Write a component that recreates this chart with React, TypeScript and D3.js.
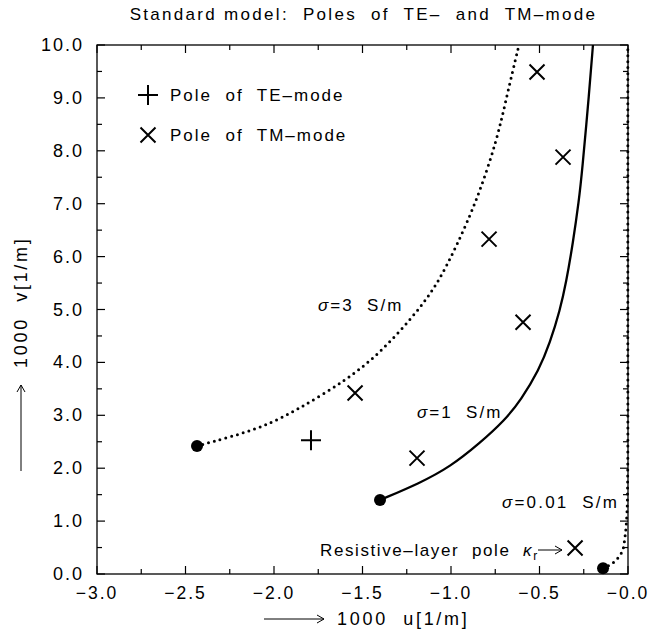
import React from "react";
import * as d3 from "d3";

const title = "Standard model:  Poles  of  TE–  and  TM–mode";

const xTicks = [-3.0, -2.5, -2.0, -1.5, -1.0, -0.5, 0.0];
const xTickLabels = ["−3.0", "−2.5", "−2.0", "−1.5", "−1.0", "−0.5", "−0.0"];
const yTicks = [0, 1, 2, 3, 4, 5, 6, 7, 8, 9, 10];

// sigma = 3 S/m (dotted)
const sigma3U = [-2.435, -2.249, -2.062, -1.87, -1.588, -1.401, -1.215, -1.079, -0.966, -0.853, -0.740, -0.684, -0.616];
const sigma3V = [2.42, 2.59, 2.78, 3.1, 3.67, 4.18, 4.86, 5.46, 6.22, 7.07, 8.2, 9.05, 10.0];

// sigma = 1 S/m (solid)
const sigma1U = [-1.401, -1.175, -1.006, -0.836, -0.695, -0.605, -0.503, -0.441, -0.384, -0.35, -0.311, -0.277, -0.26, -0.218, -0.198];
const sigma1V = [1.399, 1.72, 2.023, 2.476, 2.911, 3.289, 3.856, 4.367, 4.991, 5.501, 6.257, 7.07, 7.58, 9.149, 10.0];

// sigma = 0.01 S/m (dotted)
const sigma001U = [-0.141, -0.085, -0.034, -0.017, -0.006, -0.002, -0.001, -0.001];
const sigma001V = [0.11, 0.21, 0.42, 0.7, 1.15, 1.78, 5.0, 10.0];

// Pole of TE-mode
const teU = [-1.791];
const teV = [2.53];

// Poles of TM-mode
const tmU = [-0.514, -0.367, -0.785, -0.593, -1.542, -1.192, -0.299];
const tmV = [9.49, 7.88, 6.33, 4.76, 3.42, 2.19, 0.49];

const W = 648;
const H = 637;
const margin = { left: 97, right: 20, top: 45, bottom: 63 };
const FONT = "'Liberation Sans', Arial, sans-serif";

export default function App() {
  const x = d3.scaleLinear().domain([-3, 0]).range([margin.left, W - margin.right]);
  const y = d3.scaleLinear().domain([0, 10]).range([H - margin.bottom, margin.top]);
  const smooth = d3
    .line<[number, number]>()
    .x((d) => x(d[0]))
    .y((d) => y(d[1]))
    .curve(d3.curveBasis);
  const tight = d3
    .line<[number, number]>()
    .x((d) => x(d[0]))
    .y((d) => y(d[1]))
    .curve(d3.curveCatmullRom.alpha(0.5));

  const pts = (u: number[], v: number[]) => u.map((uu, i) => [uu, v[i]] as [number, number]);
  const x0 = x(-3), x1 = x(0), y0 = y(0), y1 = y(10);

  const xMinor = d3.range(-3, 0.001, 0.25);
  const yMinor = d3.range(0, 10.001, 0.5);

  const cross = (cx: number, cy: number, s: number) => `M${cx - s},${cy - s}L${cx + s},${cy + s}M${cx - s},${cy + s}L${cx + s},${cy - s}`;
  const plus = (cx: number, cy: number, s: number) => `M${cx - s},${cy}L${cx + s},${cy}M${cx},${cy - s}L${cx},${cy + s}`;

  const st = (ls: number): React.CSSProperties => ({ fontFamily: FONT, whiteSpace: "pre", letterSpacing: `${ls}px` });

  return (
    <svg width={W} height={H} style={{ position: "absolute", left: 0, top: 0, background: "#fff" }}>
      <rect x={0} y={0} width={W} height={H} fill="#fff" />
      <text x={(x0 + x1) / 2 + 1} y={20} textAnchor="middle" fontSize={17} style={st(2.3)}>
        {title}
      </text>

      {/* frame */}
      <rect x={x0} y={y1} width={x1 - x0} height={y0 - y1} fill="none" stroke="#000" strokeWidth={1.3} />

      {/* ticks */}
      {xMinor.map((t, i) => {
        const len = i % 2 === 0 ? 8 : 5;
        return (
          <g key={"xt" + i}>
            <line x1={x(t)} x2={x(t)} y1={y0} y2={y0 - len} stroke="#000" strokeWidth={1.2} />
            <line x1={x(t)} x2={x(t)} y1={y1} y2={y1 + len} stroke="#000" strokeWidth={1.2} />
          </g>
        );
      })}
      {yMinor.map((t, i) => {
        const len = i % 2 === 0 ? 8 : 5;
        return (
          <g key={"yt" + i}>
            <line x1={x0} x2={x0 + len} y1={y(t)} y2={y(t)} stroke="#000" strokeWidth={1.2} />
            <line x1={x1} x2={x1 - len} y1={y(t)} y2={y(t)} stroke="#000" strokeWidth={1.2} />
          </g>
        );
      })}
      {xTicks.map((t, i) => (
        <text key={"xl" + i} x={x(t)} y={y0 + 25} textAnchor="middle" fontSize={17.5} style={st(2)}>
          {xTickLabels[i]}
        </text>
      ))}
      {yTicks.map((t, i) => (
        <text key={"yl" + i} x={x0 - 13} y={y(t) + 6} textAnchor="end" fontSize={18} style={st(2)}>
          {t.toFixed(1)}
        </text>
      ))}

      {/* axis titles */}
      <g>
        <line x1={264} x2={324} y1={y0 + 45} y2={y0 + 45} stroke="#000" strokeWidth={1} />
        <path d={`M${317},${y0 + 41}L${324},${y0 + 45}L${317},${y0 + 49}`} fill="none" stroke="#000" strokeWidth={1} />
        <text x={337} y={y0 + 51} fontSize={18} style={st(2.7)}>
          {"1000  u[1/m]"}
        </text>
      </g>
      <g transform={`translate(27,0)`}>
        <line x1={-6} x2={-6} y1={471} y2={385} stroke="#000" strokeWidth={1} />
        <path d={`M${-10},${392}L${-6},${385}L${-2},${392}`} fill="none" stroke="#000" strokeWidth={1} />
        <text transform={`translate(0,368) rotate(-90)`} x={0} y={0} fontSize={18} style={st(2.7)}>
          {"1000  v[1/m]"}
        </text>
      </g>

      {/* curves */}
      <path d={smooth(pts(sigma3U, sigma3V)) || ""} fill="none" stroke="#000" strokeWidth={3} strokeDasharray="0 6" strokeLinecap="round" />
      <path d={smooth(pts(sigma1U, sigma1V)) || ""} fill="none" stroke="#000" strokeWidth={2.3} />
      <path d={tight(pts(sigma001U, sigma001V)) || ""} fill="none" stroke="#000" strokeWidth={3} strokeDasharray="0 6" strokeLinecap="round" />

      {/* start dots */}
      <circle cx={x(sigma3U[0])} cy={y(sigma3V[0])} r={6} fill="#000" />
      <circle cx={x(sigma1U[0])} cy={y(sigma1V[0])} r={6} fill="#000" />
      <circle cx={x(sigma001U[0])} cy={y(sigma001V[0])} r={6} fill="#000" />

      {/* markers */}
      {teU.map((u, i) => (
        <path key={"te" + i} d={plus(x(u), y(teV[i]), 10)} stroke="#000" strokeWidth={2} fill="none" />
      ))}
      {tmU.map((u, i) => (
        <path key={"tm" + i} d={cross(x(u), y(tmV[i]), 7.5)} stroke="#000" strokeWidth={2} fill="none" />
      ))}

      {/* legend */}
      <path d={plus(148, 95, 10)} stroke="#000" strokeWidth={2} fill="none" />
      <text x={170} y={101} fontSize={17} style={st(2)}>
        {"Pole  of  TE–mode"}
      </text>
      <path d={cross(148, 135, 7.5)} stroke="#000" strokeWidth={2} fill="none" />
      <text x={170} y={141} fontSize={17} style={st(2)}>
        {"Pole  of  TM–mode"}
      </text>

      {/* curve labels */}
      <text x={318} y={311} fontSize={17} style={st(2)}>
        <tspan fontStyle="italic">σ</tspan>
        {"=3  S/m"}
      </text>
      <text x={417} y={418} fontSize={17} style={st(2)}>
        <tspan fontStyle="italic">σ</tspan>
        {"=1  S/m"}
      </text>
      <text x={502} y={508} fontSize={17} style={st(2.2)}>
        <tspan fontStyle="italic">σ</tspan>
        {"=0.01  S/m"}
      </text>
      <text x={320} y={556} fontSize={17} style={st(1.6)}>
        {"Resistive–layer  pole  "}
        <tspan fontStyle="italic">κ</tspan>
        <tspan fontSize={12} dy={4}>r</tspan>
      </text>
      <line x1={538} x2={562} y1={550} y2={550} stroke="#000" strokeWidth={1} />
      <path d={`M${555},${546}L${562},${550}L${555},${554}`} fill="none" stroke="#000" strokeWidth={1} />
    </svg>
  );
}
